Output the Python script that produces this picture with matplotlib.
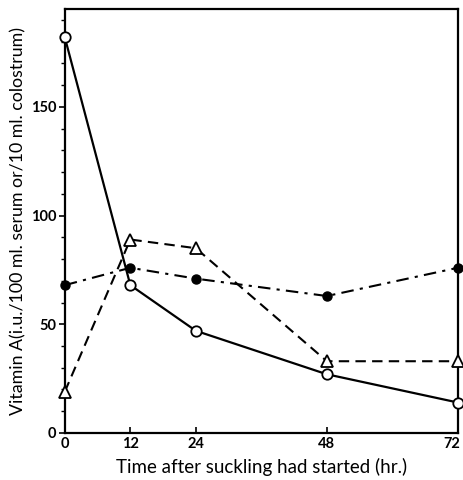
import matplotlib
matplotlib.use("Agg")
import matplotlib.pyplot as plt
from matplotlib.ticker import MultipleLocator
from matplotlib.transforms import ScaledTranslation

hours = [0, 12, 24, 48, 72]
open_circles = [182, 68, 47, 27, 14]
triangles = [19, 89, 85, 33, 33]
filled_circles = [68, 76, 71, 63, 76]

x_ticks = [0, 12, 24, 48, 72]
y_ticks = [0, 50, 100, 150]

plt.rcParams['font.family'] = ['Lato', 'DejaVu Sans']

fig = plt.figure(figsize=(4.63, 4.8), dpi=100)
ax = fig.add_axes([0.140, 0.098, 0.849, 0.883])

ax.plot(hours, open_circles, '-', color='black', lw=1.6, marker='o', ms=7.5,
        mfc='white', mec='black', mew=1.3, clip_on=False, zorder=3)
ax.plot(hours, triangles, '--', color='black', lw=1.5, dashes=(5, 3), marker='^', ms=8.5,
        mfc='white', mec='black', mew=1.3, clip_on=False, zorder=3)
ax.plot(hours, filled_circles, '-.', color='black', lw=1.5, dashes=(6, 3, 1.5, 3), marker='o', ms=6.5,
        mfc='black', mec='black', clip_on=False, zorder=3)

ax.set_xlim(0, 72)
ax.set_ylim(0, 195)
ax.set_xticks(x_ticks)
ax.set_yticks(y_ticks)
ax.yaxis.set_minor_locator(MultipleLocator(10))
ax.tick_params(axis='y', which='major', direction='out', length=4, width=1.2, labelsize=10.5, pad=2)
ax.tick_params(axis='y', which='minor', direction='out', length=3, width=1.0)
ax.tick_params(axis='x', which='major', direction='in', length=4, width=1.2, labelsize=10.5, pad=3)
for lab in ax.get_xticklabels() + ax.get_yticklabels():
    lab.set_fontweight('bold')
last = ax.get_xticklabels()[-1]
last.set_transform(last.get_transform() + ScaledTranslation(-6 / 100, 0, fig.dpi_scale_trans))
for s in ax.spines.values():
    s.set_linewidth(1.6)

ax.set_xlabel('Time after suckling had started (hr.)', fontsize=13.5, labelpad=5)
ax.set_ylabel('Vitamin A(i.u./100 ml. serum or/10 ml. colostrum)', fontsize=12.8, labelpad=3)

fig.savefig('out.png', dpi=100)
